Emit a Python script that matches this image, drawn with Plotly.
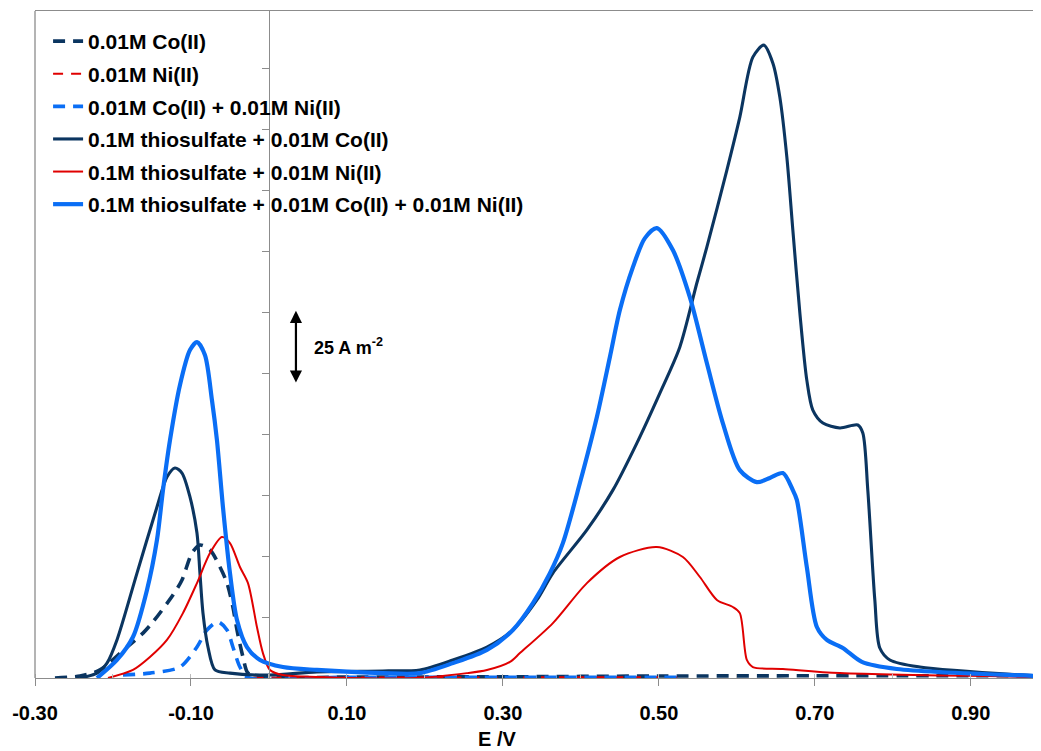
import plotly.graph_objects as go

# ---- data (E in V, current density in A m^-2) ----
co_x = [-0.2744, -0.2423, -0.2167, -0.182, -0.1615, -0.1487, -0.1231, -0.1115, -0.0987, -0.0885,
        -0.0756, -0.0628, -0.0538, -0.0462, -0.041, -0.0333, -0.0269, -0.0115, 0.10, 0.30, 0.50, 0.70, 0.99]
co_y = [0.0, 0.8, 3.3, 12.7, 18.4, 23.0, 34.0, 40.2, 51.2, 54.5,
        52.5, 45.5, 38.9, 29.1, 19.7, 8.6, 2.0, 0.4, 0.4, 0.5, 0.8, 0.9, 0.9]

ni_x = [-0.02, 0.10, 0.30, 0.53]
ni_y = [0.2, 0.2, 0.2, 0.3]

coni_x = [-0.1872, -0.1526, -0.1141, -0.0923, -0.0795, -0.0654, -0.0538, -0.0462, -0.0372, -0.0282, 0.10, 0.30, 0.53]
coni_y = [1.2, 2.0, 4.5, 12.7, 19.7, 23.0, 19.7, 12.7, 4.5, 0.4, 0.3, 0.3, 0.3]

tco_x = [-0.2423, -0.2205, -0.2077, -0.1949, -0.1692, -0.1436, -0.1308, -0.1205, -0.1115, -0.1013,
         -0.0923, -0.0885, -0.0846, -0.0782, -0.0692, -0.050, 0.0013, 0.0615, 0.146, 0.1936,
         0.2359, 0.2795, 0.3128, 0.3436, 0.3641, 0.4077, 0.441, 0.4718, 0.5013, 0.5269,
         0.5487, 0.5615, 0.5872, 0.6038, 0.6205, 0.6346, 0.6462, 0.6551, 0.6641, 0.6718,
         0.6808, 0.6897, 0.6974, 0.7103, 0.7321, 0.7551, 0.7615, 0.7679, 0.7769, 0.7833,
         0.7962, 0.8346, 0.9897]
tco_y = [0.0, 2.0, 6.1, 15.6, 43.0, 70.1, 82.4, 86.1, 84.0, 74.2,
         59.4, 43.0, 26.6, 12.7, 3.3, 2.0, 1.2, 2.5, 2.9, 3.3,
         7.4, 12.7, 19.7, 32.0, 43.0, 60.7, 77.0, 96.3, 116.8, 135.7,
         161.9, 176.6, 208.2, 229.9, 254.5, 259.4, 252.0, 238.1, 213.5, 183.6,
         149.6, 122.1, 109.8, 104.5, 102.5, 103.7, 100.4, 77.0, 32.0, 12.3,
         7.4, 4.5, 0.8]

tni_x = [-0.2064, -0.1744, -0.1526, -0.1308, -0.1103, -0.0923, -0.0756, -0.0603, -0.05, -0.0372,
         -0.0269, -0.0154, -0.0077, 0.0013, 0.0179, 0.0615, 0.1897, 0.2538, 0.2795, 0.309,
         0.3218, 0.3641, 0.4077, 0.45, 0.4974, 0.5308, 0.5526, 0.5744, 0.5949, 0.6038,
         0.6128, 0.6205, 0.659, 0.732, 0.9897]
tni_y = [0.0, 3.3, 8.6, 15.6, 26.6, 38.9, 51.2, 57.8, 55.3, 45.5,
         38.9, 20.9, 10.2, 3.3, 1.2, 0.4, 0.0, 2.0, 3.3, 6.6,
         10.2, 22.5, 38.9, 49.6, 53.7, 49.6, 41.4, 32.0, 29.1, 26.6,
         7.4, 4.5, 3.7, 2.0, 0.4]

tconi_x = [-0.2205, -0.1949, -0.1744, -0.1564, -0.1436, -0.1359, -0.1269, -0.1141, -0.1013, -0.0923,
           -0.0821, -0.0731, -0.0667, -0.059, -0.05, -0.041, -0.0282, -0.0115, 0.0179, 0.0615,
           0.146, 0.1936, 0.2359, 0.2795, 0.3128, 0.3385, 0.3603, 0.3769, 0.3987, 0.4205,
           0.4372, 0.45, 0.4667, 0.4821, 0.4974, 0.5179, 0.5397, 0.5615, 0.582, 0.6038,
           0.6256, 0.6423, 0.659, 0.6718, 0.6769, 0.6897, 0.7026, 0.7154, 0.7359, 0.7603,
           0.8051, 0.9897]
tconi_y = [0.0, 7.4, 16.8, 36.1, 56.6, 77.0, 97.5, 120.1, 134.4, 137.7,
           132.4, 113.9, 97.5, 70.1, 43.0, 23.8, 12.7, 7.4, 4.5, 3.3,
           2.0, 2.0, 6.1, 11.5, 19.7, 30.7, 43.0, 55.3, 79.9, 107.0,
           131.6, 150.8, 168.4, 180.3, 184.4, 175.4, 156.1, 129.1, 104.5, 85.2,
           80.3, 82.0, 84.0, 77.0, 73.0, 45.5, 20.9, 15.6, 12.3, 6.6,
           3.7, 0.8]

names = ["0.01M Co(II)", "0.01M Ni(II)", "0.01M Co(II) + 0.01M Ni(II)",
         "0.1M thiosulfate + 0.01M Co(II)", "0.1M thiosulfate + 0.01M Ni(II)",
         "0.1M thiosulfate + 0.01M Co(II) + 0.01M Ni(II)"]

x_tickvals = [-0.30, -0.10, 0.10, 0.30, 0.50, 0.70, 0.90]
x_ticktext = ["-0.30", "-0.10", "0.10", "0.30", "0.50", "0.70", "0.90"]

NAVY = "#0B3560"
RED = "#E00000"
BLUE = "#0A6EF5"

series = [
    (co_x, co_y, NAVY, 3.6, "12px,8px"),
    (ni_x, ni_y, RED, 2.2, "10px,8px"),
    (coni_x, coni_y, BLUE, 3.6, "12px,8px"),
    (tco_x, tco_y, NAVY, 3.1, "solid"),
    (tni_x, tni_y, RED, 2.0, "solid"),
    (tconi_x, tconi_y, BLUE, 4.2, "solid"),
]

fig = go.Figure()
for i, (xs, ys, col, w, dash) in enumerate(series):
    fig.add_trace(go.Scatter(
        x=xs, y=ys, mode="lines", name=names[i], legendgroup=f"g{i}",
        line=dict(color=col, width=w, dash=dash, shape="spline", smoothing=0.8),
    ))

x0, x1 = -0.30, 0.99
y0, y1 = 0, 273.4
FONT = "Arial, Liberation Sans, sans-serif"

# the page body has an 8 px margin, so the figure is sized/offset to compensate
fig.update_layout(
    width=1033, height=743,
    margin=dict(l=27, r=0, t=3, b=73),
    paper_bgcolor="white", plot_bgcolor="white",
    showlegend=True,
    legend=dict(x=0.013, y=0.985, xanchor="left", yanchor="top",
                font=dict(family=FONT, size=21, color="black", weight="bold"),
                traceorder="grouped", tracegroupgap=2.3, bgcolor="rgba(0,0,0,0)",
                itemwidth=30),
    xaxis=dict(range=[x0, x1], tickvals=x_tickvals, ticktext=x_ticktext,
               showgrid=False, zeroline=False, showline=True, linecolor="#8C8C8C",
               linewidth=1.3, mirror=True, ticks="outside", ticklen=7, tickcolor="#8C8C8C",
               ticklabelstandoff=10,
               minor=dict(dtick=0.1, tick0=-0.30, ticks="inside", ticklen=4, tickcolor="#BBBBBB"),
               tickfont=dict(family=FONT, size=20, color="black", weight="bold")),
    yaxis=dict(range=[y0, y1], tick0=0, dtick=25, showticklabels=False,
               showgrid=False, zeroline=False, showline=True, linecolor="#8C8C8C",
               linewidth=1.3, ticks="outside", ticklen=7, tickcolor="#8C8C8C",
               anchor="free", position=(0 - x0) / (x1 - x0), side="left"),
)

# left border of plot area
fig.add_shape(type="line", xref="paper", yref="paper", x0=0, x1=0, y0=0, y1=1,
              line=dict(color="#8C8C8C", width=1.3))

# axis title
fig.add_annotation(text="E /V", xref="paper", yref="paper",
                   x=(497 - 35) / 1006, y=-0.092, xanchor="center", yanchor="middle",
                   showarrow=False, font=dict(family=FONT, size=20, color="black", weight="bold"))

# scale bar
fig.add_annotation(x=0.0346, y=150.5, ax=0.0346, ay=120.5, xref="x", yref="y",
                   axref="x", ayref="y", text="", showarrow=True,
                   arrowhead=2, startarrowhead=2, arrowside="end+start",
                   arrowsize=1.1, startarrowsize=1.1, arrowwidth=2.2, arrowcolor="black")
fig.add_annotation(x=0.0555, y=136, xref="x", yref="y", xanchor="left", yanchor="middle",
                   text="25 A m<sup>-2</sup>", showarrow=False,
                   font=dict(family=FONT, size=18, color="black", weight="bold"))

fig.write_html("out.html")
